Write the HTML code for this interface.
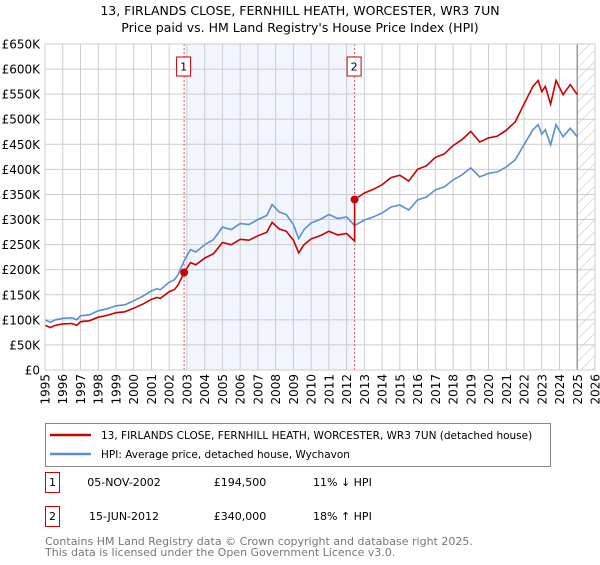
<!DOCTYPE html>
<html><head><meta charset="utf-8"><style>
body{margin:0;background:#fff;font-family:"Liberation Sans","DejaVu Sans",sans-serif;}
svg text{font-family:"DejaVu Sans","Liberation Sans",sans-serif;}
</style></head><body>
<svg id="c" width="600" height="560" xmlns="http://www.w3.org/2000/svg">
<defs><pattern id="hatch" width="8" height="8" patternUnits="userSpaceOnUse" patternTransform="rotate(45)"><line x1="0" y1="0" x2="0" y2="8" stroke="#bbb" stroke-width="1"/></pattern></defs>
<text x="300" y="15" text-anchor="middle" font-size="12.5" fill="#000">13, FIRLANDS CLOSE, FERNHILL HEATH, WORCESTER, WR3 7UN</text>
<text x="300" y="32" text-anchor="middle" font-size="12.5" fill="#000">Price paid vs. HM Land Registry's House Price Index (HPI)</text>
<g id="plot"></g>
<rect x="45.5" y="423.5" width="505" height="43" fill="#fff" stroke="#888"/>
<line x1="50" y1="435" x2="91" y2="435" stroke="#cc0000" stroke-width="2.5"/>
<text x="101" y="439" font-size="10.5">13, FIRLANDS CLOSE, FERNHILL HEATH, WORCESTER, WR3 7UN (detached house)</text>
<line x1="50" y1="454" x2="91" y2="454" stroke="#5b8fd0" stroke-width="2.5"/>
<text x="101" y="458" font-size="10.5">HPI: Average price, detached house, Wychavon</text>
<rect x="45.5" y="472.5" width="14" height="20" fill="#fff" stroke="#cc0000"/>
<text x="52.5" y="486" font-size="11" text-anchor="middle">1</text>
<text x="124" y="486" font-size="11" text-anchor="middle">05-NOV-2002</text>
<text x="240" y="486" font-size="11" text-anchor="middle">£194,500</text>
<text x="313" y="486" font-size="11">11% ↓ HPI</text>
<rect x="45.5" y="506.5" width="14" height="20" fill="#fff" stroke="#cc0000"/>
<text x="52.5" y="520" font-size="11" text-anchor="middle">2</text>
<text x="124" y="520" font-size="11" text-anchor="middle">15-JUN-2012</text>
<text x="240" y="520" font-size="11" text-anchor="middle">£340,000</text>
<text x="313" y="520" font-size="11">18% ↑ HPI</text>
<text x="45" y="545" font-size="11" fill="#777">Contains HM Land Registry data © Crown copyright and database right 2025.</text>
<text x="45" y="556" font-size="11" fill="#777">This data is licensed under the Open Government Licence v3.0.</text>
</svg>
<script>
const hpiYears=[1995,1995.3,1995.6,1996,1996.5,1996.8,1997,1997.5,1998,1998.5,1999,1999.5,2000,2000.5,2001,2001.3,2001.5,2002,2002.3,2002.5,2002.84,2003.2,2003.5,2004,2004.5,2005,2005.5,2006,2006.5,2007,2007.5,2007.8,2008.2,2008.6,2009,2009.3,2009.6,2010,2010.5,2011,2011.5,2012,2012.45,2013,2013.5,2014,2014.5,2015,2015.5,2016,2016.5,2017,2017.5,2018,2018.5,2019,2019.5,2020,2020.5,2021,2021.5,2022,2022.5,2022.8,2023,2023.2,2023.5,2023.8,2024.2,2024.6,2025];
const hpiValues=[100,95,100,103,104,100,108,110,118,122,128,130,138,147,158,162,160,175,180,190,218,240,235,250,260,285,280,292,290,300,308,330,315,310,290,262,280,293,300,310,302,305,288,299,305,313,325,329,319,339,345,359,365,379,389,403,385,392,395,405,419,449,479,489,470,479,449,489,465,482,465];
const saleYears=[2002.84,2012.45];
const salePrices=[194.5,340];
const saleLabels=["1","2"];
const yTicks=[0,50,100,150,200,250,300,350,400,450,500,550,600,650];
const yTickLabels=["£0","£50K","£100K","£150K","£200K","£250K","£300K","£350K","£400K","£450K","£500K","£550K","£600K","£650K"];
const xTicks=[1995,1996,1997,1998,1999,2000,2001,2002,2003,2004,2005,2006,2007,2008,2009,2010,2011,2012,2013,2014,2015,2016,2017,2018,2019,2020,2021,2022,2023,2024,2025,2026];
const dataEnd=2025.0;
const X0=45,X1=595,Y0=370,Y1=44;
const xs=y=>X0+(y-1995)/(2026-1995)*(X1-X0);
const ys=v=>Y0-v/650*(Y0-Y1);
const NS="http://www.w3.org/2000/svg";
const g=document.getElementById('plot');
function mk(t,a){const e=document.createElementNS(NS,t);for(const k in a)e.setAttribute(k,a[k]);g.appendChild(e);return e;}
let r=mk('rect',{x:xs(saleYears[0]),y:Y1,width:xs(saleYears[1])-xs(saleYears[0]),height:Y0-Y1,fill:'#eef3fd',opacity:0.8});


r=mk('rect',{x:xs(dataEnd),y:Y1,width:X1-xs(dataEnd),height:Y0-Y1,fill:'url(#hatch)'});


yTicks.forEach((t,i)=>{
 const l=mk('line',{x1:X0,x2:X1,y1:ys(t),y2:ys(t),stroke:'#ccc','stroke-width':1});
 
 
 const tx=mk('text',{x:40,y:ys(t)+4.5,'text-anchor':'end','font-size':12});
 tx.textContent=yTickLabels[i];
 
 
});
xTicks.forEach(t=>{
 const l=mk('line',{x1:xs(t),x2:xs(t),y1:Y1,y2:Y0,stroke:'#ccc','stroke-width':1});
 
 
 const tx=mk('text',{x:0,y:0,'text-anchor':'end','font-size':12,transform:`translate(${xs(t)+4.5},374) rotate(-90)`});
 tx.textContent=t;
 
 
});
mk('line',{x1:xs(dataEnd),x2:xs(dataEnd),y1:Y1,y2:Y0,stroke:'#999','stroke-width':1.5});
saleYears.forEach((s,i)=>{
 const l=mk('line',{x1:xs(s),x2:xs(s),y1:Y1,y2:Y0,stroke:'#ee5555','stroke-width':1,'stroke-dasharray':'2,2'});
 
 
 const b=mk('rect',{x:xs(s)-7.5,y:57,width:14,height:19,fill:'#fff',stroke:'#cc0000'});
 
 
 const t=mk('text',{x:xs(s)-0.5,y:70.5,'text-anchor':'middle','font-size':11});
 t.textContent=saleLabels[i];
});
function hpiAt(y){for(let i=1;i<hpiYears.length;i++){if(y<=hpiYears[i]){const f=(y-hpiYears[i-1])/(hpiYears[i]-hpiYears[i-1]);return hpiValues[i-1]+f*(hpiValues[i]-hpiValues[i-1]);}}return hpiValues[hpiValues.length-1];}
const ratio1=salePrices[0]/hpiAt(saleYears[0]), ratio2=salePrices[1]/hpiAt(saleYears[1]);
let bp='';hpiYears.forEach((y,i)=>{bp+=(i?'L':'M')+xs(y).toFixed(1)+','+ys(hpiValues[i]).toFixed(1);});
let p=mk('path',{d:bp,fill:'none',stroke:'#5b8fd0','stroke-width':1.6});


let rp='';let jumped=false;
hpiYears.forEach((y,i)=>{
 if(y>saleYears[1]&&!jumped){
  rp+='L'+xs(saleYears[1]).toFixed(1)+','+ys(hpiAt(saleYears[1])*ratio1).toFixed(1);
  rp+='L'+xs(saleYears[1]).toFixed(1)+','+ys(salePrices[1]).toFixed(1);
  jumped=true;
 }
 const v=hpiValues[i]*(y>saleYears[1]?ratio2:ratio1);
 rp+=(i?'L':'M')+xs(y).toFixed(1)+','+ys(v).toFixed(1);
});
p=mk('path',{d:rp,fill:'none',stroke:'#cc0000','stroke-width':1.6});


saleYears.forEach((s,i)=>{
 const c=mk('circle',{cx:xs(s),cy:ys(salePrices[i]),r:4,fill:'#cc0000'});
 
 
});
mk('rect',{x:X0,y:Y1,width:X1-X0,height:Y0-Y1,fill:'none',stroke:'#ccc'});
</script>
</body></html>
